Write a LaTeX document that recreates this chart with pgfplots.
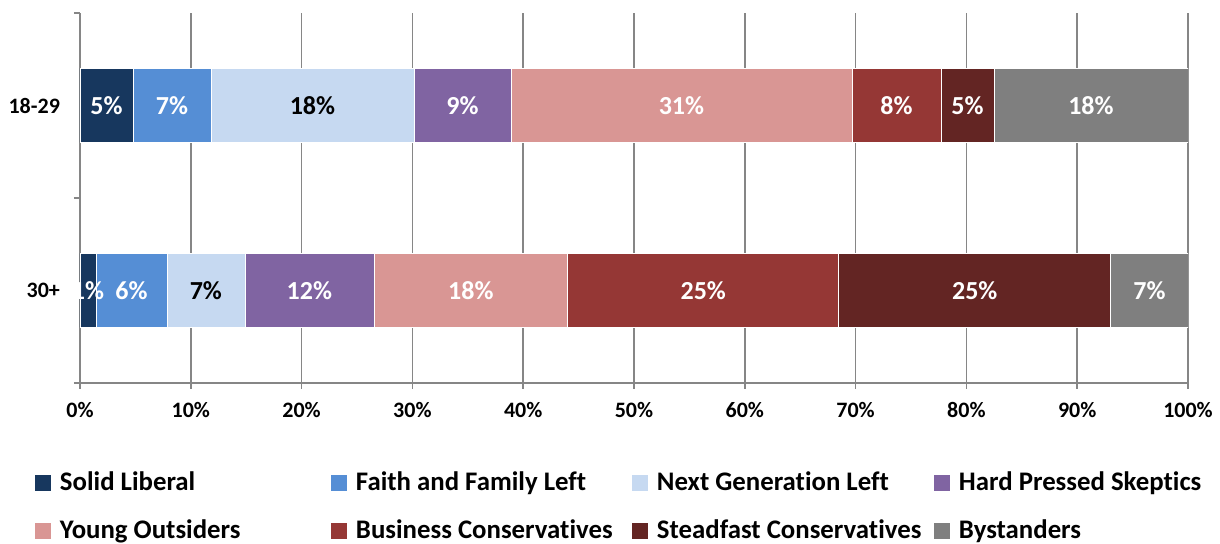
\documentclass[border=0pt]{standalone}
\usepackage{pgfplots}
\pgfplotsset{compat=1.18}
\usepackage{pgfplotstable}
\usepackage{fontspec}
\setmainfont{Carlito}[Ligatures=NoCommon]
\definecolor{colA}{HTML}{17375E}
\definecolor{colB}{HTML}{558ED5}
\definecolor{colC}{HTML}{C6D9F1}
\definecolor{colD}{HTML}{8064A2}
\definecolor{colE}{HTML}{D99694}
\definecolor{colF}{HTML}{953735}
\definecolor{colG}{HTML}{632523}
\definecolor{colH}{HTML}{7F7F7F}
\definecolor{axgray}{HTML}{868686}
\pgfplotstableread{
pos va la vb lb vc lc vd ld ve le vf lf vg lg vh lh
0 1.44 1 6.40 6 7.04 7 11.64 12 17.5 18 24.46 25 24.55 25 6.97 7
1 4.78 5 7.04 7 18.32 18 8.75 9 30.78 31 8.03 8 4.78 5 17.52 18
}\data
\newcommand{\seg}[4]{%
\addplot[fill=#3, draw=white, line width=0.3pt,
  nodes near coords={\pgfplotspointmeta\%},
  point meta=explicit symbolic,
  every node near coord/.append style={anchor=center, text=#4,
    font=\fontsize{13}{15}\selectfont\bfseries}]
  table[x=v#1, y=pos, meta=l#2]{\data};}
\begin{document}
\begin{tikzpicture}
\begin{axis}[
  scale only axis, width=554pt, height=185pt,
  xbar stacked, bar width=37pt,
  xmin=0, xmax=100, ymin=-0.5, ymax=1.5,
  axis lines=left, axis line style={-, draw=axgray, line width=0.75pt},
  tick align=outside, major tick length=3pt,
  tick style={draw=axgray, line width=0.75pt},
  xtick={0,10,...,100},
  xticklabels={0\%,10\%,20\%,30\%,40\%,50\%,60\%,70\%,80\%,90\%,100\%},
  xmajorgrids, major grid style={draw=axgray, line width=0.75pt},
  ytick={-0.5,0.5,1.5}, yticklabels={},
  extra y ticks={0,1}, extra y tick labels={30+,18-29},
  extra y tick style={major tick length=0pt, yticklabel style={xshift=-6.5pt}},
  ticklabel style={font=\fontsize{11}{13}\selectfont\bfseries},
  xticklabel style={yshift=-3pt},
  legend columns=4,
  legend style={draw=none, fill=none, at={(0,0)}, anchor=north west,
    xshift=-22.5pt, yshift=-42.5pt, inner sep=0pt, outer sep=0pt,
    row sep=9pt,
    font=\fontsize{13.4}{15}\selectfont\bfseries,
    /tikz/every even column/.append style={column sep=0pt}},
  legend image code/.code={\fill[#1, draw=none] (0pt,-4pt) rectangle (8pt,4pt);},
]
\seg{a}{a}{colA}{white}
\addlegendentry{\makebox[136pt][l]{\hspace{2.5pt}Solid Liberal}}
\seg{b}{b}{colB}{white}
\addlegendentry{\makebox[138.5pt][l]{\hspace{2.5pt}Faith and Family Left}}
\seg{c}{c}{colC}{black}
\addlegendentry{\makebox[139pt][l]{\hspace{2.5pt}Next Generation Left}}
\seg{d}{d}{colD}{white}
\addlegendentry{\makebox[115pt][l]{\hspace{2.5pt}Hard Pressed Skeptics}}
\seg{e}{e}{colE}{white}
\addlegendentry{\makebox[136pt][l]{\hspace{2.5pt}Young Outsiders}}
\seg{f}{f}{colF}{white}
\addlegendentry{\makebox[138.5pt][l]{\hspace{2.5pt}Business Conservatives}}
\seg{g}{g}{colG}{white}
\addlegendentry{\makebox[139pt][l]{\hspace{2.5pt}Steadfast Conservatives}}
\seg{h}{h}{colH}{white}
\addlegendentry{\makebox[115pt][l]{\hspace{2.5pt}Bystanders}}
\end{axis}
\pgfresetboundingbox
\path[use as bounding box] (-40pt,-80.5pt) rectangle (570pt,191.5pt);
\end{tikzpicture}
\end{document}
